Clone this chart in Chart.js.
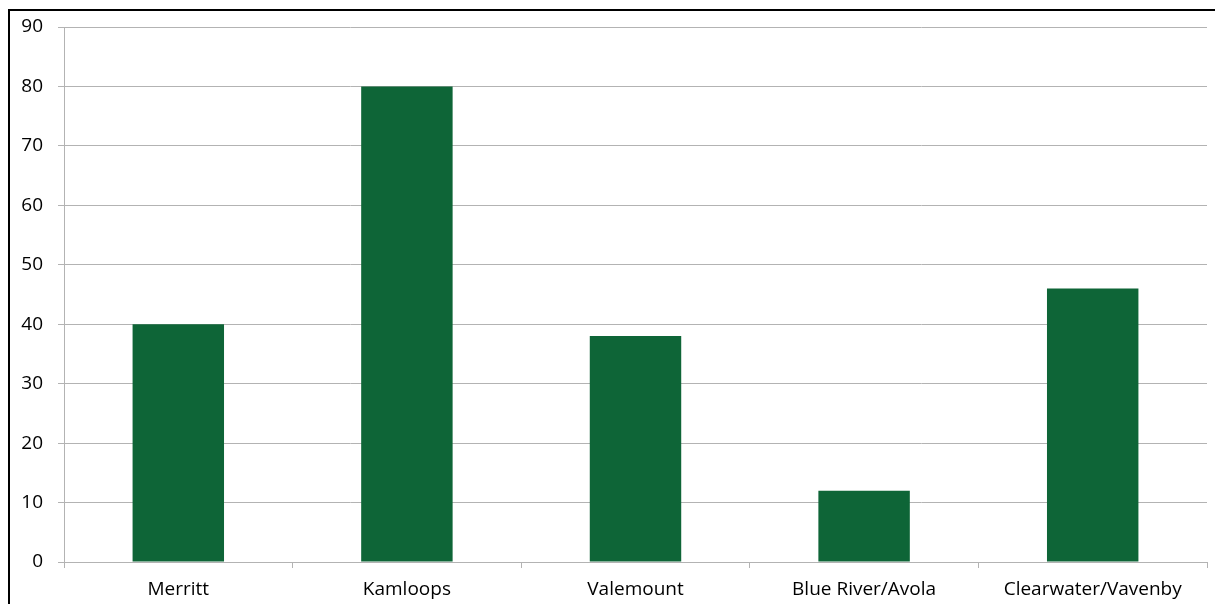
<!DOCTYPE html>
<html>
<head>
<meta charset="utf-8">
<script src="https://cdn.jsdelivr.net/npm/chart.js@4"></script>
<style>
  html, body { margin: 0; padding: 0; background: #fff; }
  canvas { display: block; }
</style>
</head>
<body>
<canvas id="myChart" width="1215" height="604"></canvas>
<script>
// Values per location
const locations = ['Merritt', 'Kamloops', 'Valemount', 'Blue River/Avola', 'Clearwater/Vavenby'];
const counts = [40, 80, 38, 12, 46];
const yTicks = [0, 10, 20, 30, 40, 50, 60, 70, 80, 90];

const gridGray = '#b3b3b3';

// black frame round the chart (runs off the right and bottom edges)
const frame = {
  id: 'frame',
  afterDraw(chart) {
    const c = chart.ctx;
    c.save();
    c.fillStyle = '#000';
    c.fillRect(8, 9, chart.width, 2);
    c.fillRect(8, 9, 2, chart.height);
    c.restore();
  }
};

const ctx = document.getElementById('myChart').getContext('2d');
const myChart = new Chart(ctx, {
  type: 'bar',
  data: {
    labels: locations,
    datasets: [{
      data: counts,
      backgroundColor: '#0e6537',
      borderWidth: 0,
      barPercentage: 0.4,
      categoryPercentage: 1.0
    }]
  },
  options: {
    responsive: false,
    animation: false,
    devicePixelRatio: 1,
    layout: { padding: { top: 27, right: 8, left: 0, bottom: 0 } },
    plugins: {
      legend: { display: false },
      tooltip: { enabled: false }
    },
    scales: {
      x: {
        offset: true,
        afterFit: function(scale) { scale.height = 42; },
        grid: {
          offset: true,
          drawOnChartArea: false,
          drawTicks: true,
          tickLength: 6,
          color: gridGray
        },
        border: { color: gridGray, width: 1 },
        ticks: {
          color: '#000',
          padding: 10,
          maxRotation: 0,
          font: { family: 'Open Sans', size: 19 }
        }
      },
      y: {
        min: yTicks[0],
        max: yTicks[yTicks.length - 1],
        afterFit: function(scale) { scale.width = 64; },
        afterBuildTicks: function(scale) {
          scale.ticks = yTicks.map(v => ({ value: v }));
        },
        grid: {
          color: gridGray,
          tickLength: 6,
          drawTicks: true
        },
        border: { color: gridGray, width: 1 },
        ticks: {
          color: '#000',
          padding: 15,
          font: { family: 'Open Sans', size: 19 }
        }
      }
    }
  },
  plugins: [frame]
});
</script>
</body>
</html>
